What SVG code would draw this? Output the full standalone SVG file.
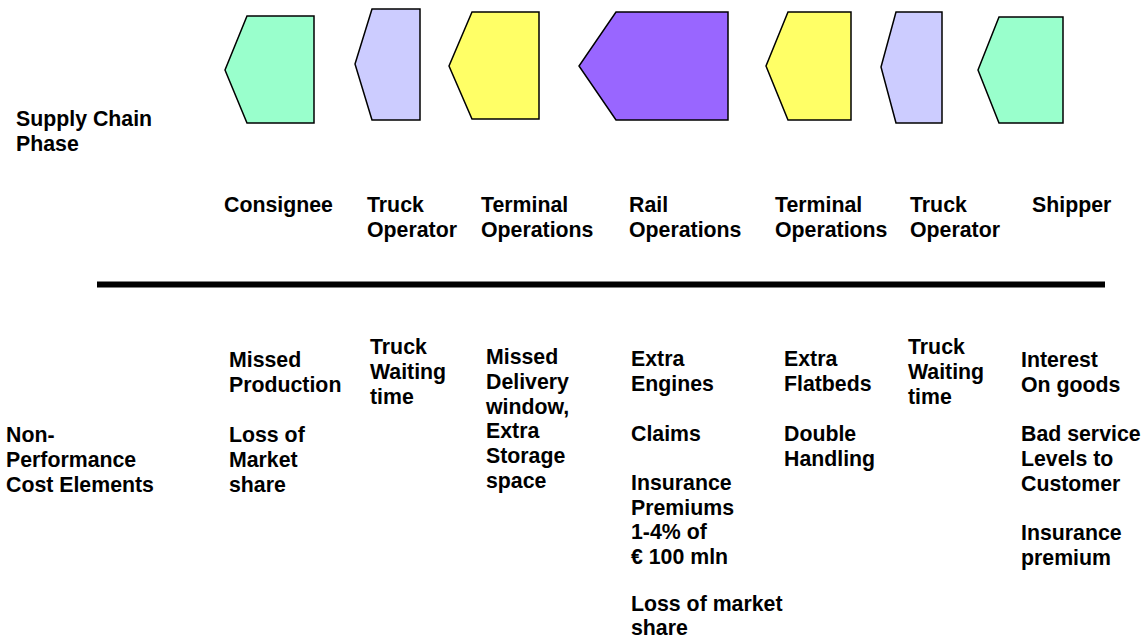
<svg xmlns="http://www.w3.org/2000/svg" width="1147" height="643" viewBox="0 0 1147 643">
<style>
.s{stroke:#000;stroke-width:1.5;stroke-linejoin:miter}
.g{fill:#99FFCC}.l{fill:#CCCCFF}.y{fill:#FFFF66}.p{fill:#9966FF}
text{font-family:"Liberation Sans",Arial,sans-serif;font-weight:bold;font-size:21.3px;fill:#000}
</style>
<rect width="1147" height="643" fill="#fff"/>
<g id="phase-shapes">
<polygon id="consignee-shape" class="s g" points="247,16 314,16 314,123 247,123 225,70"/>
<polygon id="truck1-shape" class="s l" points="372,9 420,9 420,120 372,120 355,64"/>
<polygon id="terminal1-shape" class="s y" points="472,12 539,12 539,119 472,119 449,66"/>
<polygon id="rail-shape" class="s p" points="616,12 728,12 728,120 616,120 579,66"/>
<polygon id="terminal2-shape" class="s y" points="788,12 851,12 851,120 788,120 766,66"/>
<polygon id="truck2-shape" class="s l" points="896,12 942,12 942,123 896,123 881,67"/>
<polygon id="shipper-shape" class="s g" points="999,17 1063,17 1063,123 999,123 978,70"/>
</g>
<g id="connectors">
<line x1="97" y1="284.5" x2="1105" y2="284.5" stroke="#000" stroke-width="6"/>
</g>
<g id="row-labels">
<text x="16" y="126">Supply Chain</text>
<text x="16" y="151">Phase</text>
<text x="6" y="442">Non-</text>
<text x="6" y="467">Performance</text>
<text x="6" y="492">Cost Elements</text>
</g>
<g id="phase-labels">
<text x="224" y="212">Consignee</text>
<text x="367" y="212">Truck</text><text x="367" y="237">Operator</text>
<text x="481" y="212">Terminal</text><text x="481" y="237">Operations</text>
<text x="629" y="212">Rail</text><text x="629" y="237">Operations</text>
<text x="775" y="212">Terminal</text><text x="775" y="237">Operations</text>
<text x="910" y="212">Truck</text><text x="910" y="237">Operator</text>
<text x="1032" y="212">Shipper</text>
</g>
<g id="cost-consignee">
<text x="229" y="367">Missed</text><text x="229" y="392">Production</text>
<text x="229" y="442">Loss of</text><text x="229" y="467">Market</text><text x="229" y="492">share</text>
</g>
<g id="cost-truck1">
<text x="370" y="354">Truck</text><text x="370" y="379">Waiting</text><text x="370" y="404">time</text>
</g>
<g id="cost-terminal1">
<text x="486" y="364">Missed</text><text x="486" y="389">Delivery</text><text x="486" y="414">window,</text>
<text x="486" y="438">Extra</text><text x="486" y="463">Storage</text><text x="486" y="488">space</text>
</g>
<g id="cost-rail">
<text x="631" y="366">Extra</text><text x="631" y="391">Engines</text>
<text x="631" y="441">Claims</text>
<text x="631" y="490">Insurance</text><text x="631" y="514.5">Premiums</text><text x="631" y="539">1-4% of</text><text x="631" y="563.5">€ 100 mln</text>
<text x="631" y="611">Loss of market</text><text x="631" y="635">share</text>
</g>
<g id="cost-terminal2">
<text x="784" y="366">Extra</text><text x="784" y="391">Flatbeds</text>
<text x="784" y="441">Double</text><text x="784" y="466">Handling</text>
</g>
<g id="cost-truck2">
<text x="908" y="354">Truck</text><text x="908" y="379">Waiting</text><text x="908" y="404">time</text>
</g>
<g id="cost-shipper">
<text x="1021" y="367">Interest</text><text x="1021" y="392">On goods</text>
<text x="1021" y="441">Bad service</text><text x="1021" y="466">Levels to</text><text x="1021" y="490.5">Customer</text>
<text x="1021" y="540">Insurance</text><text x="1021" y="564.5">premium</text>
</g>
</svg>
